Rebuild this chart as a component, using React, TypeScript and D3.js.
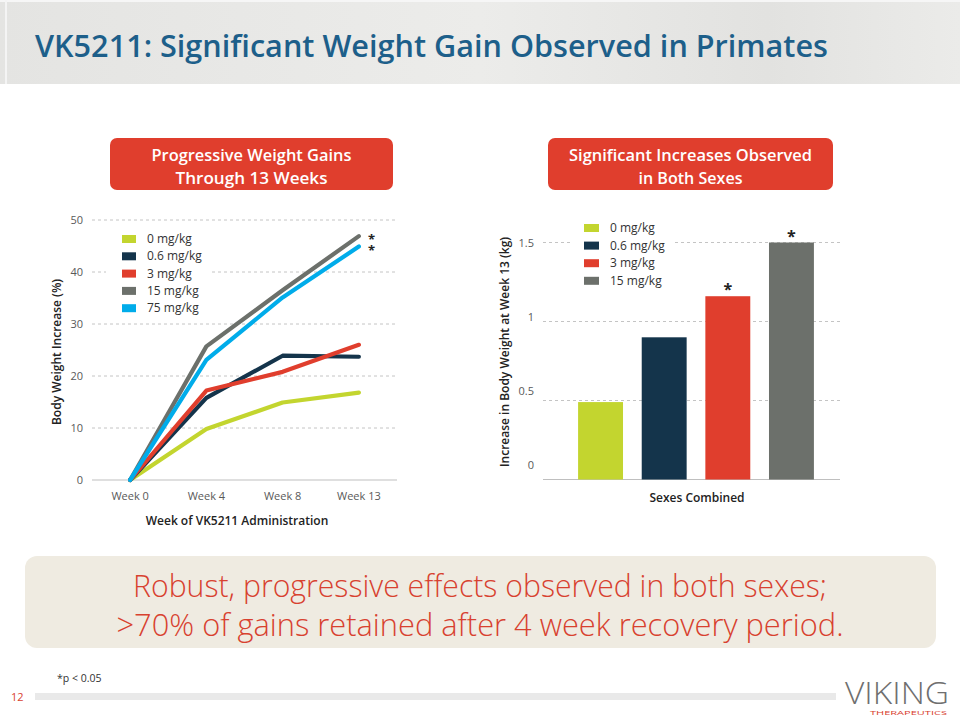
import React from "react";
import * as d3 from "d3";

const weeks = ["Week 0", "Week 4", "Week 8", "Week 13"];
const doseLabels = ["0 mg/kg", "0.6 mg/kg", "3 mg/kg", "15 mg/kg", "75 mg/kg"];
const doseColors = ["#c3d52f", "#14344b", "#e03e2d", "#6c706b", "#00acea"];
const dose0 = [0, 9.8, 14.9, 16.8];
const dose06 = [0, 15.8, 23.9, 23.7];
const dose3 = [0, 17.2, 20.8, 26];
const dose15 = [0, 25.7, 36.5, 46.9];
const dose75 = [0, 23.1, 35.1, 44.9];
const lineSeries = [dose0, dose06, dose3, dose15, dose75];
const lineSig = [false, false, false, true, true];
const leftTicks = [0, 10, 20, 30, 40, 50];

const barLabels = ["0 mg/kg", "0.6 mg/kg", "3 mg/kg", "15 mg/kg"];
const barValues = [0.49, 0.9, 1.16, 1.5];
const barColors = ["#c3d52f", "#14344b", "#e03e2d", "#6c706b"];
const barSig = [false, false, true, true];
const rightTicks = [0, 0.5, 1, 1.5];

const FONT = "'Open Sans', 'Noto Sans', sans-serif";

export default function App() {
  // Left line chart
  const lx = d3.scaleBand<string>().domain(weeks).range([92, 397]);
  const ly = d3.scaleLinear().domain([0, 50]).range([480, 220]);
  const line = d3
    .line<number>()
    .x((_, i) => (lx(weeks[i]) as number) + lx.bandwidth() / 2)
    .y((d) => ly(d));

  // Right bar chart
  const rx = d3.scaleBand<string>().domain(barLabels).range([559, 833]).paddingInner(0.294).paddingOuter(0.3);
  const ry = d3.scaleLinear().domain([0, 1.5]).range([479.5, 242.5]);
  const ryLabel = d3.scaleLinear().domain([0, 1.5]).range([469, 247]);

  return (
    <svg width={960} height={720} style={{ position: "absolute", left: 0, top: 0 }} fontFamily={FONT}>
      <defs>
        <linearGradient id="hdr" x1="0" x2="1" y1="0" y2="0">
          <stop offset="0" stopColor="#e4e4e2" />
          <stop offset="0.5" stopColor="#ececea" />
          <stop offset="0.8" stopColor="#e2e2e0" />
          <stop offset="1" stopColor="#ebebe9" />
        </linearGradient>
      </defs>
      <rect x={0} y={0} width={960} height={720} fill="#ffffff" />
      {/* header */}
      <rect x={0} y={0} width={960} height={84} fill="url(#hdr)" />
      <rect x={0} y={0} width={960} height={2} fill="#f6f6f6" />
      <rect x={5} y={0} width={2} height={84} fill="#f4f4f4" />
      <text x={35} y={57} fontSize={31} fontWeight={600} fill="#1d5f8a" textLength={793} lengthAdjust="spacingAndGlyphs">
        VK5211: Significant Weight Gain Observed in Primates
      </text>

      {/* red section headers */}
      <rect x={110} y={138} width={283} height={52} rx={7} fill="#e03e2d" />
      <text x={251.5} y={161} fontSize={17} fill="#fff" textAnchor="middle" fontWeight={600} textLength={200} lengthAdjust="spacingAndGlyphs">
        Progressive Weight Gains
      </text>
      <text x={251.5} y={184} fontSize={17} fill="#fff" textAnchor="middle" fontWeight={600} textLength={152} lengthAdjust="spacingAndGlyphs">
        Through 13 Weeks
      </text>
      <rect x={548} y={138} width={285} height={52} rx={7} fill="#e03e2d" />
      <text x={690.5} y={161} fontSize={17} fill="#fff" textAnchor="middle" fontWeight={600} textLength={243} lengthAdjust="spacingAndGlyphs">
        Significant Increases Observed
      </text>
      <text x={690.5} y={184} fontSize={17} fill="#fff" textAnchor="middle" fontWeight={600} textLength={104} lengthAdjust="spacingAndGlyphs">
        in Both Sexes
      </text>

      {/* LEFT CHART */}
      <g>
        {leftTicks.map((t) => (
          <g key={t}>
            {t === 0 ? (
              <line x1={92} x2={397} y1={ly(t)} y2={ly(t)} stroke="#bfbfbf" strokeWidth={1.2} />
            ) : (
              <line x1={92} x2={397} y1={ly(t)} y2={ly(t)} stroke="#c4c4c4" strokeWidth={1} strokeDasharray="3,3" />
            )}
            <text x={83} y={ly(t) + 4} fontSize={11} fill="#595959" textAnchor="end">
              {t}
            </text>
          </g>
        ))}
        {weeks.map((w) => (
          <text key={w} x={(lx(w) as number) + lx.bandwidth() / 2} y={500} fontSize={11} fill="#595959" textAnchor="middle">
            {w}
          </text>
        ))}
        <text transform={`translate(61,352) rotate(-90)`} fontSize={12} fontWeight={600} fill="#222" textAnchor="middle">
          Body Weight Increase (%)
        </text>
        <text x={237} y={525} fontSize={12} fontWeight={600} fill="#222" textAnchor="middle">
          Week of VK5211 Administration
        </text>
        {/* legend background */}
        <rect x={106} y={228} width={104} height={90} fill="#fff" />
        {lineSeries.map((s, i) => (
          <path key={i} d={line(s) as string} fill="none" stroke={doseColors[i]} strokeWidth={4.2} strokeLinejoin="round" strokeLinecap="round" />
        ))}
        {doseLabels.map((l, i) => (
          <g key={l} transform={`translate(122,${239 + i * 17.3})`}>
            <rect x={0} y={-4} width={14} height={8} fill={doseColors[i]} />
            <text x={25} y={4} fontSize={12} fill="#333">
              {l}
            </text>
          </g>
        ))}
        {lineSeries.map((s, i) =>
          lineSig[i] ? (
            <text key={"s" + i} x={(lx(weeks[3]) as number) + lx.bandwidth() / 2 + 9} y={ly(s[3]) + 8} fontSize={13} fontWeight={700} fill="#222">
              *
            </text>
          ) : null
        )}
      </g>

      {/* RIGHT CHART */}
      <g>
        {rightTicks.map((t) => (
          <g key={t}>
            {t === 0 ? (
              <line x1={543} x2={840} y1={ry(t)} y2={ry(t)} stroke="#bfbfbf" strokeWidth={1.2} />
            ) : (
              <line x1={543} x2={840} y1={ry(t)} y2={ry(t)} stroke="#c4c4c4" strokeWidth={1} strokeDasharray="3,3" />
            )}
            <text x={534} y={ryLabel(t)} fontSize={11} fill="#595959" textAnchor="end">
              {t}
            </text>
          </g>
        ))}
        <rect x={573} y={218} width={100} height={72} fill="#fff" />
        {barValues.map((v, i) => (
          <rect key={i} x={rx(barLabels[i]) as number} y={ry(v)} width={rx.bandwidth()} height={ry(0) - ry(v)} fill={barColors[i]} />
        ))}
        {barValues.map((v, i) =>
          barSig[i] ? (
            <text key={"s" + i} x={(rx(barLabels[i]) as number) + rx.bandwidth() / 2} y={ry(v) - 1} fontSize={16} fontWeight={700} fill="#222" textAnchor="middle">
              *
            </text>
          ) : null
        )}
        {barLabels.map((l, i) => (
          <g key={l} transform={`translate(584,${228 + i * 17.6})`}>
            <rect x={0} y={-4} width={15} height={8} fill={barColors[i]} />
            <text x={26} y={4} fontSize={12} fill="#333">
              {l}
            </text>
          </g>
        ))}
        <text transform={`translate(509,352) rotate(-90)`} fontSize={12} fontWeight={600} fill="#222" textAnchor="middle">
          Increase in Body Weight at Week 13 (kg)
        </text>
        <text x={697} y={502} fontSize={12} fontWeight={600} fill="#222" textAnchor="middle">
          Sexes Combined
        </text>
      </g>

      {/* bottom banner */}
      <rect x={25} y={556} width={911} height={92} rx={12} fill="#efebe1" />
      <text x={480} y={597} fontSize={31} fontWeight={300} fill="#d8412f" textAnchor="middle" textLength={694} lengthAdjust="spacingAndGlyphs">
        Robust, progressive effects observed in both sexes;
      </text>
      <text x={480} y={636} fontSize={31} fontWeight={300} fill="#d8412f" textAnchor="middle" textLength={727} lengthAdjust="spacingAndGlyphs">
        &gt;70% of gains retained after 4 week recovery period.
      </text>

      {/* footer */}
      <text x={57} y={682} fontSize={10.5} fill="#333">
        *p &lt; 0.05
      </text>
      <text x={11} y={701} fontSize={11} fill="#d8412f">
        12
      </text>
      <rect x={35} y={693} width={801} height={7} fill="#e9e9e9" />
      <text x={845} y={704} fontSize={32} fontWeight={300} fill="#6f6f6f" textLength={104} lengthAdjust="spacingAndGlyphs">
        VIKING
      </text>
      <text x={870} y={715} fontSize={5.5} fill="#d8412f" textLength={77} lengthAdjust="spacingAndGlyphs">
        THERAPEUTICS
      </text>
    </svg>
  );
}
